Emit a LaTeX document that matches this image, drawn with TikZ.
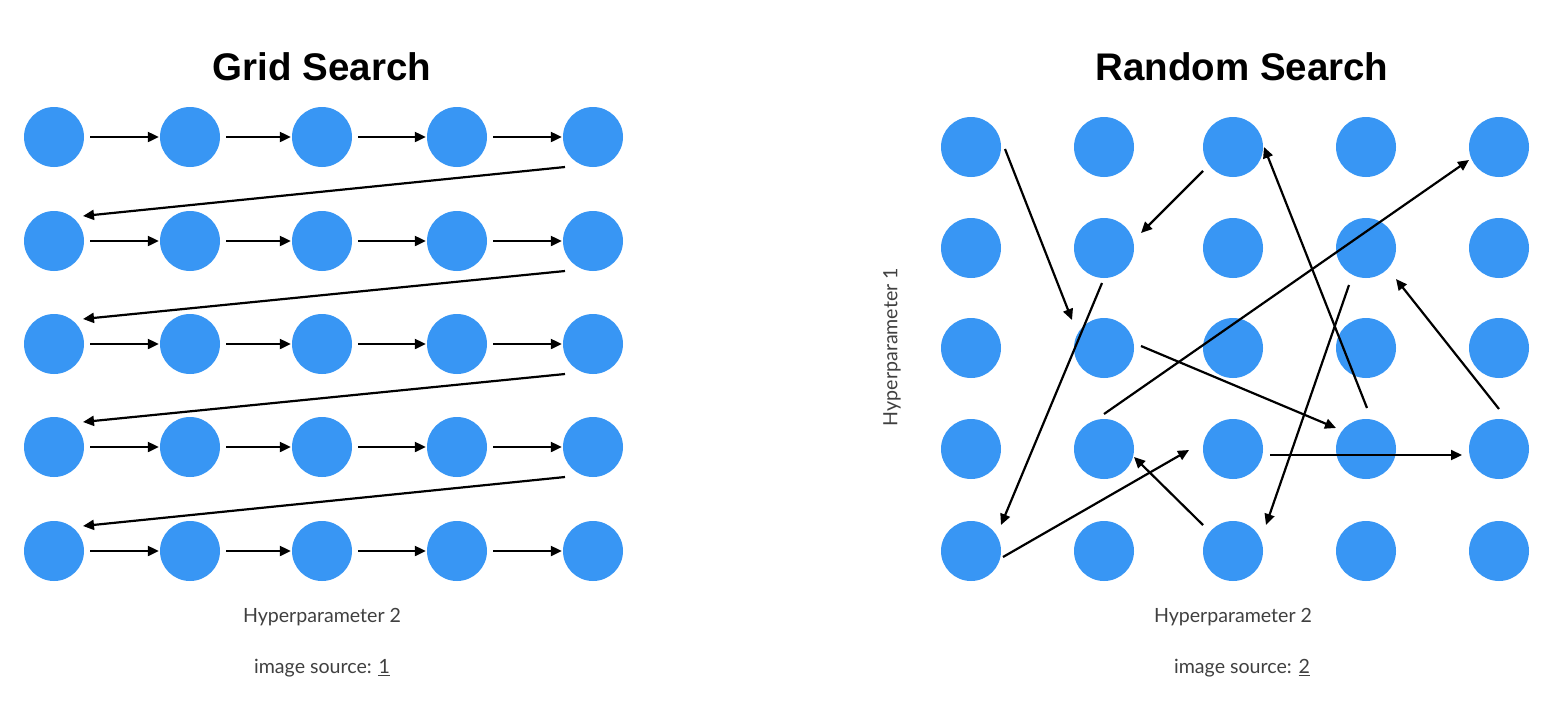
\documentclass[tikz,border=0pt]{standalone}
\usepackage{fontspec}
\setmainfont{Lato}
\newfontfamily\titlefont{Liberation Sans}
\usetikzlibrary{arrows.meta,calc}
\definecolor{dotblue}{HTML}{3896F4}
\definecolor{labelgrey}{HTML}{404040}
\tikzset{
  dot/.style={circle,fill=dotblue,draw=none,minimum size=60pt,inner sep=0pt},
  arr/.style={line width=2.2pt,-{Triangle[length=11pt,width=10pt]}},
  title/.style={font=\titlefont\bfseries\fontsize{38.5}{40}\selectfont,text=black},
  lbl/.style={font=\fontsize{19.6}{22}\selectfont,text=labelgrey}
}
\begin{document}
\begin{tikzpicture}[x=1pt,y=-1pt]
\useasboundingbox[fill=white] (0,0) rectangle (1548,716);
% ---------- left grid ----------
\foreach \r/\yy in {1/137,2/241,3/344,4/447,5/551}{
  \foreach \c/\xx in {1/54,2/190,3/322,4/457,5/593}{
    \node[dot] (L\r\c) at (\xx,\yy) {};
  }
}
\foreach \r in {1,...,5}{
  \foreach \c [evaluate=\c as \n using int(\c+1)] in {1,...,4}{
    \draw[arr,shorten <=6pt,shorten >=1pt] (L\r\c.east) -- (L\r\n.west);
  }
}
\foreach \r [evaluate=\r as \n using int(\r+1)] in {1,...,4}{
  \draw[arr] ([shift={(-28,30)}]L\r5.center) -- ([shift={(29,-25)}]L\n1.center);
}
\node[title] (t1) at (322,67) {Grid Search};
\node[lbl] (h1) at (322,617) {Hyperparameter 2};
\node[lbl] (s1) at (322,668) {image source: \underline{1}};
% ---------- right grid ----------
\foreach \r/\yy in {1/147,2/248,3/348,4/449,5/551}{
  \foreach \c/\xx in {1/971,2/1104,3/1233,4/1366,5/1499}{
    \node[dot] (R\r\c) at (\xx,\yy) {};
  }
}
\draw[arr] ([shift={(34,2)}]R11.center) -- ([shift={(-32,-28)}]R32.center);
\draw[arr] ([shift={(-30,24)}]R13.center) -- ([shift={(37,-15)}]R22.center);
\draw[arr] ([shift={(-17,37)}]R24.center) -- ([shift={(33,-26)}]R53.center);
\draw[arr] ([shift={(-2,35)}]R22.center) -- ([shift={(30,-26)}]R51.center);
\draw[arr] ([shift={(1,-41)}]R44.center) -- ([shift={(31,0)}]R13.center);
\draw[arr] ([shift={(0,-35)}]R42.center) -- ([shift={(-30,13)}]R15.center);
\draw[arr] ([shift={(0,-40)}]R45.center) -- ([shift={(30,31)}]R24.center);
\draw[arr] ([shift={(37,-2)}]R32.center) -- ([shift={(-30,-21)}]R44.center);
\draw[arr] ([shift={(37,6)}]R43.center) -- ([shift={(-37,6)}]R45.center);
\draw[arr] ([shift={(32,6)}]R51.center) -- ([shift={(-44,1)}]R43.center);
\draw[arr] ([shift={(-30,-26)}]R53.center) -- ([shift={(30,8)}]R42.center);
\node[title] (t2) at (1242,67) {Random Search};
\node[lbl] (h2) at (1233,617) {Hyperparameter 2};
\node[lbl] (s2) at (1242,668) {image source: \underline{2}};
\node[lbl,rotate=90] (v2) at (892,347) {Hyperparameter 1};
\end{tikzpicture}
\end{document}
